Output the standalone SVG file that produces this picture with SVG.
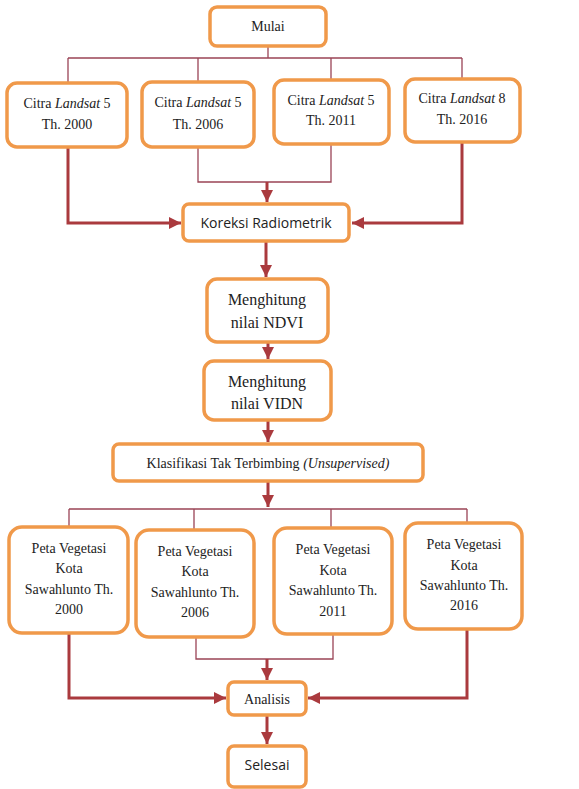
<svg xmlns="http://www.w3.org/2000/svg" width="579" height="789" viewBox="0 0 579 789">
<style>
.box{fill:#fff;stroke:#F0994A;stroke-width:3.5}
.t{font-family:"Liberation Serif",serif;font-size:14px;fill:#222;text-anchor:middle}
.t16{font-family:"Liberation Serif",serif;font-size:16px;fill:#222;text-anchor:middle}
.s{font-family:"Open Sans","Liberation Sans",sans-serif;font-size:14px;fill:#222;text-anchor:middle}
.thin{fill:none;stroke:#9A4456;stroke-width:1.3}
.thick{fill:none;stroke:#AA3A3E;stroke-width:3}
</style>
<defs>
<marker id="ah" viewBox="0 0 10 10" refX="10" refY="5" markerWidth="4" markerHeight="4" markerUnits="strokeWidth" orient="auto">
<path d="M0,0 L10,5 L0,10 z" fill="#AA3A3E"/>
</marker>
</defs>
<rect width="579" height="789" fill="#fff"/>
<g id="connectors">
<path class="thin" d="M268,46 V58 M68,58 H462 M68,58 V83 M198,58 V82 M331,58 V80 M462,58 V79"/>
<path class="thick" d="M68,147 V223 H181" marker-end="url(#ah)"/>
<path class="thick" d="M462,142 V223 H352" marker-end="url(#ah)"/>
<path class="thin" d="M198,147 V182 H331 V144"/>
<path class="thick" d="M267,182 V202" marker-end="url(#ah)"/>
<path class="thick" d="M266,241 V277" marker-end="url(#ah)"/>
<path class="thick" d="M268,342 V359" marker-end="url(#ah)"/>
<path class="thick" d="M268,420 V442" marker-end="url(#ah)"/>
<path class="thick" d="M268,481 V507" marker-end="url(#ah)"/>
<path class="thin" d="M69,509 H467 M69,509 V527 M194,509 V530 M331,509 V528 M467,509 V523"/>
<path class="thick" d="M69,633 V698 H226" marker-end="url(#ah)"/>
<path class="thick" d="M467,629 V698 H308" marker-end="url(#ah)"/>
<path class="thin" d="M196,637 V659 H333 V634"/>
<path class="thick" d="M267,659 V680" marker-end="url(#ah)"/>
<path class="thick" d="M267,715 V744" marker-end="url(#ah)"/>
</g>
<g id="mulai"><rect class="box" x="210" y="7" width="116" height="39" rx="7"/><text class="t" x="268" y="31">Mulai</text></g>
<g id="citra2000"><rect class="box" x="7" y="83" width="120" height="64" rx="10"/><text class="t" x="67" y="108">Citra <tspan font-style="italic">Landsat</tspan> 5</text><text class="t" x="67" y="129">Th. 2000</text></g>
<g id="citra2006"><rect class="box" x="142" y="82" width="112" height="65" rx="10"/><text class="t" x="198" y="107">Citra <tspan font-style="italic">Landsat</tspan> 5</text><text class="t" x="198" y="129">Th. 2006</text></g>
<g id="citra2011"><rect class="box" x="274" y="80" width="115" height="64" rx="10"/><text class="t" x="331" y="105">Citra <tspan font-style="italic">Landsat</tspan> 5</text><text class="t" x="331" y="125">Th. 2011</text></g>
<g id="citra2016"><rect class="box" x="405" y="79" width="115" height="63" rx="10"/><text class="t" x="462" y="103">Citra <tspan font-style="italic">Landsat</tspan> 8</text><text class="t" x="462" y="124">Th. 2016</text></g>
<g id="koreksi"><rect class="box" x="183" y="204" width="166" height="37" rx="6"/><text class="s" x="266" y="228">Koreksi Radiometrik</text></g>
<g id="ndvi"><rect class="box" x="207" y="279" width="121" height="63" rx="10"/><text class="t16" x="267" y="305">Menghitung</text><text class="t16" x="267" y="328">nilai NDVI</text></g>
<g id="vidn"><rect class="box" x="204" y="361" width="127" height="59" rx="10"/><text class="t16" x="267" y="387">Menghitung</text><text class="t16" x="267" y="409">nilai VIDN</text></g>
<g id="klasifikasi"><rect class="box" x="113" y="444" width="310" height="37" rx="6"/><text class="t" x="268" y="468">Klasifikasi Tak Terbimbing <tspan font-style="italic">(Unsupervised)</tspan></text></g>
<g id="peta2000"><rect class="box" x="9" y="527" width="119" height="106" rx="13"/><text class="t" x="69" y="553">Peta Vegetasi</text><text class="t" x="69" y="573">Kota</text><text class="t" x="69" y="594">Sawahlunto Th.</text><text class="t" x="69" y="614">2000</text></g>
<g id="peta2006"><rect class="box" x="136" y="530" width="118" height="107" rx="13"/><text class="t" x="195" y="556">Peta Vegetasi</text><text class="t" x="195" y="576">Kota</text><text class="t" x="195" y="597">Sawahlunto Th.</text><text class="t" x="195" y="617">2006</text></g>
<g id="peta2011"><rect class="box" x="274" y="528" width="118" height="106" rx="13"/><text class="t" x="333" y="554">Peta Vegetasi</text><text class="t" x="333" y="575">Kota</text><text class="t" x="333" y="595">Sawahlunto Th.</text><text class="t" x="333" y="616">2011</text></g>
<g id="peta2016"><rect class="box" x="405" y="523" width="117" height="106" rx="13"/><text class="t" x="464" y="549">Peta Vegetasi</text><text class="t" x="464" y="570">Kota</text><text class="t" x="464" y="590">Sawahlunto Th.</text><text class="t" x="464" y="610">2016</text></g>
<g id="analisis"><rect class="box" x="228" y="682" width="78" height="33" rx="6"/><text class="t" x="267" y="704">Analisis</text></g>
<g id="selesai"><rect class="box" x="228" y="746" width="78" height="41" rx="6"/><text class="s" x="267" y="770" font-size="13">Selesai</text></g>
</svg>
